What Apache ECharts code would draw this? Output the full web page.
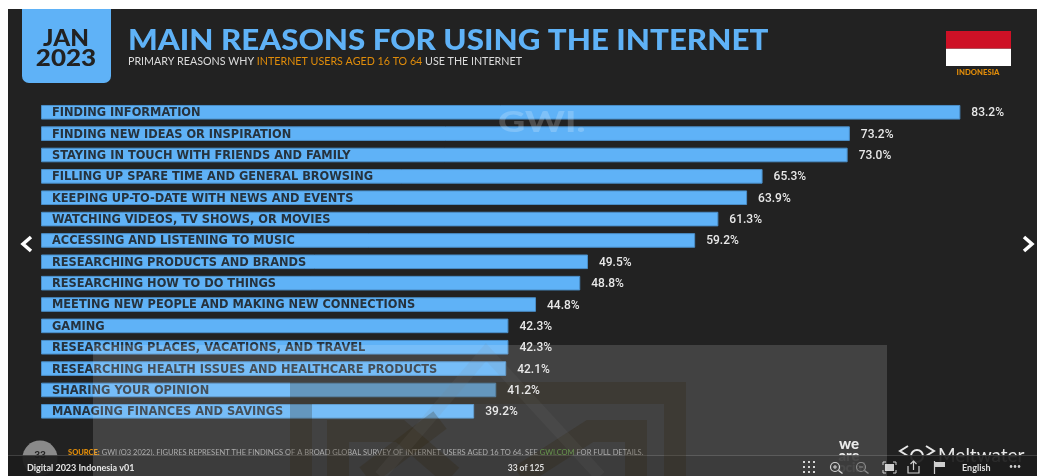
<!DOCTYPE html>
<html>
<head>
<meta charset="utf-8">
<style>html,body{margin:0;padding:0;background:#fff}#chart{width:1037px;height:476px}</style>
<script src="https://cdn.jsdelivr.net/npm/echarts@6/dist/echarts.min.js"></script>
</head>
<body>
<div id="chart"></div>
<script>
// Reasons for using the internet, Indonesia, January 2023
const categories = [
  'FINDING INFORMATION',
  'FINDING NEW IDEAS OR INSPIRATION',
  'STAYING IN TOUCH WITH FRIENDS AND FAMILY',
  'FILLING UP SPARE TIME AND GENERAL BROWSING',
  'KEEPING UP-TO-DATE WITH NEWS AND EVENTS',
  'WATCHING VIDEOS, TV SHOWS, OR MOVIES',
  'ACCESSING AND LISTENING TO MUSIC',
  'RESEARCHING PRODUCTS AND BRANDS',
  'RESEARCHING HOW TO DO THINGS',
  'MEETING NEW PEOPLE AND MAKING NEW CONNECTIONS',
  'GAMING',
  'RESEARCHING PLACES, VACATIONS, AND TRAVEL',
  'RESEARCHING HEALTH ISSUES AND HEALTHCARE PRODUCTS',
  'SHARING YOUR OPINION',
  'MANAGING FINANCES AND SAVINGS'
];
const shares = [83.2, 73.2, 73.0, 65.3, 63.9, 61.3, 59.2, 49.5, 48.8, 44.8, 42.3, 42.3, 42.1, 41.2, 39.2];

const BLUE = '#5fb2f7';
const PANEL = '#222222';
const HEAD = 'Lato, "Open Sans", sans-serif';

function label(x, y, text, font, size, weight, fill, opts) {
  opts = opts || {};
  return {
    type: 'text', x: x, y: y, z: opts.z || 6, scaleX: opts.scaleX || 1,
    style: {
      text: text, fontFamily: font, fontSize: size, fontWeight: weight, fill: fill,
      textAlign: opts.align || 'left', textVerticalAlign: 'middle'
    }
  };
}
function stroke(points, color, width, z) {
  return { type: 'polyline', z: z, shape: { points: points },
    style: { stroke: color, lineWidth: width, fill: null, lineJoin: 'miter' } };
}
function gridDots(cx, cy) {
  const dots = [];
  [-5, 0, 5].forEach(function (dx) {
    [-5, 0, 5].forEach(function (dy) {
      dots.push({ type: 'rect', z: 12, shape: { x: cx + dx - 1, y: cy + dy - 1, width: 2, height: 2 }, style: { fill: '#cfcfcf' } });
    });
  });
  return dots;
}
function magnifier(cx, cy, color, sign) {
  const parts = [
    { type: 'circle', z: 12, shape: { cx: cx, cy: cy, r: 4.5 }, style: { stroke: color, lineWidth: 1.2, fill: null } },
    stroke([[cx + 3.5, cy + 3.5], [cx + 7.5, cy + 6.5]], color, 1.5, 12),
    stroke([[cx - 2, cy], [cx + 2, cy]], color, 1, 12)
  ];
  if (sign) parts.push(stroke([[cx, cy - 2], [cx, cy + 2]], color, 1, 12));
  return parts;
}

const STAMP = 'rgba(45,32,8,0.24)';

const decorations = [
  // slide panel
  { type: 'rect', z: -5, shape: { x: 8, y: 9, width: 1029, height: 467 }, style: { fill: PANEL } },

  // date badge
  { type: 'rect', z: 5, shape: { x: 22, y: 9, width: 89, height: 74, r: [0, 0, 7, 7] }, style: { fill: BLUE } },
  label(66, 39, 'JAN', HEAD, 22, 900, PANEL, { align: 'center', scaleX: 1.1 }),
  label(66, 59, '2023', HEAD, 23, 900, PANEL, { align: 'center', scaleX: 1.13 }),

  // headline block
  label(128, 41, 'MAIN REASONS FOR USING THE INTERNET', HEAD, 28, 900, BLUE, { scaleX: 1.118 }),
  {
    type: 'text', x: 128, y: 62, z: 6,
    style: {
      text: '{a|PRIMARY REASONS WHY }{b|INTERNET USERS AGED 16 TO 64}{a| USE THE INTERNET}',
      textVerticalAlign: 'middle',
      rich: {
        a: { fontFamily: HEAD, fontSize: 10.7, fill: '#dcdcdc' },
        b: { fontFamily: HEAD, fontSize: 10.7, fill: '#e08c0a' }
      }
    }
  },

  // flag
  { type: 'rect', z: 5, shape: { x: 946, y: 48.5, width: 65, height: 17.5 }, style: { fill: '#ffffff' } },
  { type: 'rect', z: 5, shape: { x: 946, y: 31, width: 65, height: 17.5 }, style: { fill: '#ce1126' } },
  label(978, 73, 'INDONESIA', HEAD, 7, 900, '#e08c0a', { align: 'center', scaleX: 1.1 }),

  // research partner watermark across the top bars
  label(498, 123, 'GWI.', HEAD, 29, 900, 'rgba(255,255,255,0.2)', { scaleX: 1.3 }),

  // page navigation
  stroke([[31, 237], [23, 244], [31, 251]], '#ffffff', 3.5, 6),
  stroke([[1024, 237], [1032, 244], [1024, 251]], '#ffffff', 3.5, 6),

  // slide footer, partly hidden by the viewer toolbar
  { type: 'circle', z: 6, shape: { cx: 40, cy: 458, r: 17.5 }, style: { fill: '#8a8a8a' } },
  label(40, 455, '33', HEAD, 10, 900, PANEL, { align: 'center' }),
  {
    type: 'text', x: 68, y: 453, z: 6,
    style: {
      text: '{o|SOURCE:}{a| GWI (Q3 2022). FIGURES REPRESENT THE FINDINGS OF A BROAD GLOBAL SURVEY OF INTERNET USERS AGED 16 TO 64. SEE }{g|GWI.COM}{a| FOR FULL DETAILS.}',
      textVerticalAlign: 'middle',
      rich: {
        o: { fontFamily: HEAD, fontSize: 7.5, fontWeight: 900, fill: '#e08c0a' },
        a: { fontFamily: HEAD, fontSize: 7.5, fill: '#a0a0a0' },
        g: { fontFamily: HEAD, fontSize: 7.5, fill: '#63b04a' }
      }
    }
  },
  label(849, 444, 'we', HEAD, 15, 900, '#e8e8e8', { align: 'center' }),
  label(849, 456, 'are', HEAD, 15, 900, '#e8e8e8', { align: 'center' }),
  label(849, 468, 'social', HEAD, 13, 900, '#e8e8e8', { align: 'center' }),
  stroke([[908, 456], [900, 451], [908, 446]], '#e8e8e8', 2, 6),
  stroke([[926, 446], [934, 451], [926, 456]], '#e8e8e8', 2, 6),
  { type: 'circle', z: 6, shape: { cx: 917, cy: 456, r: 6 }, style: { stroke: '#e8e8e8', lineWidth: 2, fill: null } },
  label(938, 456, 'Meltwater', HEAD, 19, 400, '#e8e8e8'),

  // viewer toolbar
  { type: 'rect', z: 10, shape: { x: 8, y: 455, width: 1029, height: 21 }, style: { fill: 'rgba(28,28,28,0.93)' } },
  { type: 'rect', z: 10, shape: { x: 8, y: 455, width: 1029, height: 1 }, style: { fill: 'rgba(255,255,255,0.16)' } },
  label(27, 468, 'Digital 2023 Indonesia v01', HEAD, 9, 700, '#e6e6e6', { z: 30 }),
  label(526, 468, '33 of 125', HEAD, 8.5, 700, '#dedede', { align: 'center', z: 30 }),
  label(962, 468, 'English', HEAD, 9, 700, '#dedede', { z: 30 }),
  label(1015, 467, '\u2022\u2022\u2022', HEAD, 7, 400, '#cfcfcf', { align: 'center', z: 30 }),
  ...gridDots(809, 467),
  ...magnifier(835, 467, '#cfcfcf', true),
  ...magnifier(861, 467, '#777777', false),
  stroke([[883, 465], [883, 462], [886, 462]], '#cfcfcf', 1, 12),
  stroke([[893, 462], [896, 462], [896, 465]], '#cfcfcf', 1, 12),
  stroke([[896, 470], [896, 473], [893, 473]], '#cfcfcf', 1, 12),
  stroke([[886, 473], [883, 473], [883, 470]], '#cfcfcf', 1, 12),
  { type: 'rect', z: 12, shape: { x: 885, y: 464, width: 9, height: 7 }, style: { fill: '#cfcfcf' } },
  stroke([[908, 466], [908, 473], [919, 473], [919, 466]], '#cfcfcf', 1.2, 12),
  stroke([[913.5, 470], [913.5, 461]], '#cfcfcf', 1.2, 12),
  stroke([[910.5, 464], [913.5, 461], [916.5, 464]], '#cfcfcf', 1.2, 12),
  stroke([[934.5, 474], [934.5, 461]], '#cfcfcf', 1.2, 12),
  { type: 'rect', z: 12, shape: { x: 935, y: 462, width: 10, height: 5 }, style: { fill: '#cfcfcf' } },

  // embedded stamp laid over the lower slide
  { type: 'rect', z: 20, shape: { x: 93, y: 345, width: 794, height: 131 }, style: { fill: 'rgba(255,255,255,0.145)' } },
  stroke([[301, 476], [301, 393], [675, 393], [675, 476]], STAMP, 22, 21),
  stroke([[338, 476], [338, 431], [400, 431], [452, 476]], STAMP, 22, 21),
  stroke([[366, 476], [440, 420]], STAMP, 22, 21),
  stroke([[520, 476], [590, 431], [636, 431], [636, 476]], STAMP, 22, 21),
  stroke([[380, 476], [486, 352], [600, 476]], 'rgba(130,130,130,0.1)', 12, 21)
];

const chart = echarts.init(document.getElementById('chart'), null, { renderer: 'canvas' });
chart.setOption({
  backgroundColor: '#ffffff',
  animation: false,
  grid: { left: 41, top: 101.6, width: 994.5, height: 320.4, containLabel: false },
  xAxis: { type: 'value', min: 0, max: 90, show: false },
  yAxis: {
    type: 'category', inverse: true, data: categories,
    axisLine: { show: false }, axisTick: { show: false }, splitLine: { show: false },
    axisLabel: { show: false }
  },
  series: [{
    type: 'bar', data: shares, barWidth: 14.6, barGap: '-100%',
    itemStyle: { color: BLUE, borderColor: '#4a8ec8', borderWidth: 1 },
    label: {
      show: true, position: 'insideLeft', distance: 11, offset: [0, 1], formatter: '{b}',
      color: '#26323d', fontFamily: '"DejaVu Sans", Lato, sans-serif', fontSize: 11.4, fontWeight: 700
    }
  }, {
    // value labels sit on a clear copy of the bars so they stay above the stamp
    type: 'bar', data: shares, barWidth: 14.6, barGap: '-100%', z: 30, silent: true,
    itemStyle: { color: 'transparent' },
    label: {
      show: true, position: 'right', distance: 11, offset: [0, 1], color: '#e8e8e8',
      fontFamily: 'Roboto, sans-serif', fontSize: 12, fontWeight: 500,
      formatter: function (p) { return p.value.toFixed(1) + '%'; }
    }
  }],
  graphic: { elements: decorations }
});
</script>
</body>
</html>
